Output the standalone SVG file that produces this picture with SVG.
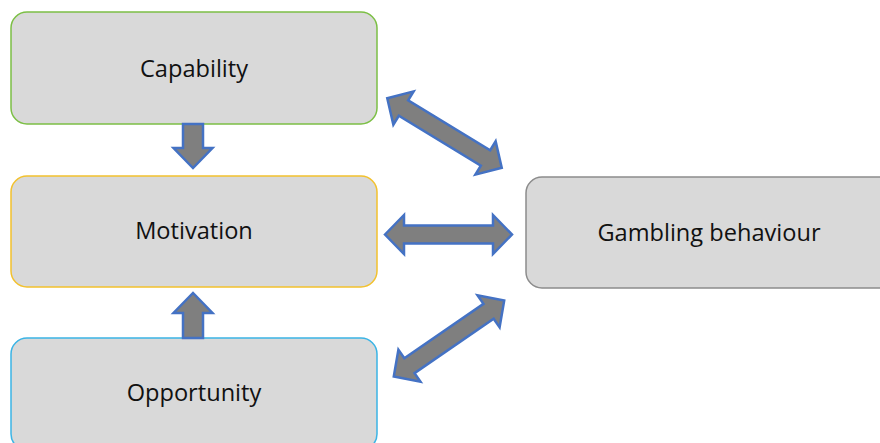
<svg xmlns="http://www.w3.org/2000/svg" width="880" height="443" viewBox="0 0 880 443">
<style>
.box{fill:#d9d9d9;stroke-width:1.5}
.lbl{font-family:"Open Sans","Liberation Sans",sans-serif;font-size:23.6px;fill:#111;text-anchor:middle}
.arr{fill:#7f7f7f;stroke:#4472c4;stroke-width:2.5;stroke-linejoin:miter}
</style>
<defs>
<path id="dbl" d="M -67 0 L -48 -19.5 L -48 -9 L 48 -9 L 48 -19.5 L 67 0 L 48 19.5 L 48 9 L -48 9 L -48 19.5 Z"/>
</defs>
<g id="capability">
<rect class="box" x="11" y="12" width="366" height="112" rx="16" stroke="#7cbf45"/>
<text class="lbl" x="194" y="77">Capability</text>
</g>
<g id="motivation">
<rect class="box" x="11" y="176" width="366" height="111" rx="16" stroke="#f2c12e"/>
<text class="lbl" x="194" y="239">Motivation</text>
</g>
<g id="opportunity">
<rect class="box" x="11" y="338" width="366" height="112" rx="16" stroke="#3bb4e5"/>
<text class="lbl" x="194" y="401">Opportunity</text>
</g>
<g id="gambling">
<rect class="box" x="526" y="177" width="370" height="111" rx="16" stroke="#8c8c8c"/>
<text class="lbl" x="709" y="241">Gambling behaviour</text>
</g>
<g id="connectors">
<path class="arr" d="M 183 124 L 203 124 L 203 148 L 212.5 148 L 193 168 L 173.5 148 L 183 148 Z"/>
<path class="arr" d="M 183 338 L 203 338 L 203 313 L 212.5 313 L 193 293 L 173.5 313 L 183 313 Z"/>
<path class="arr" d="M 385 234.5 L 404 215 L 404 225.5 L 493 225.5 L 493 215 L 512 234.5 L 493 254 L 493 243.5 L 404 243.5 L 404 254 Z"/>
<use href="#dbl" class="arr" transform="translate(444.5 133) rotate(31.3)"/>
<use href="#dbl" class="arr" transform="translate(449 338.5) rotate(-34.5)"/>
</g>
</svg>
